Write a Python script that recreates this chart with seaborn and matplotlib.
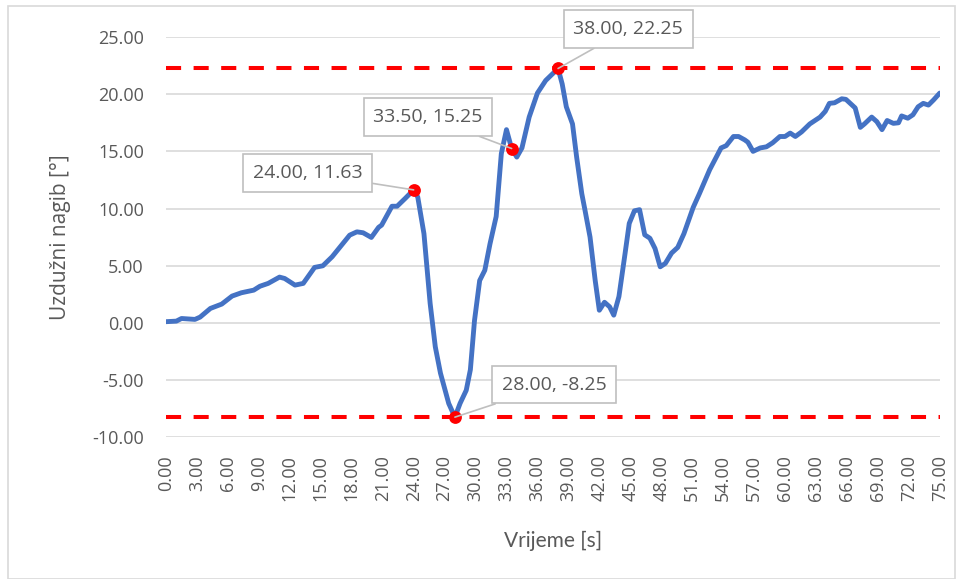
import numpy as np
import pandas as pd
import matplotlib
matplotlib.use("Agg")
import matplotlib.pyplot as plt
import seaborn as sns
from matplotlib.patches import Rectangle
from matplotlib.ticker import FormatStrFormatter, MultipleLocator

# Podaci ocitani sa grafa
vrijeme = [0.0, 1.0, 1.5, 2.8, 3.3, 4.3, 5.4, 6.4, 7.3, 8.5, 9.1, 9.9, 11.0, 11.5,
           12.5, 13.3, 14.4, 15.2, 16.1, 17.8, 18.5, 19.1, 19.9, 20.6, 20.9, 21.9,
           22.4, 23.2, 24.0, 24.4, 25.0, 25.6, 26.1, 26.6, 27.4, 28.0, 28.5, 29.1,
           29.5, 29.9, 30.4, 30.9, 31.4, 32.0, 32.5, 33.0, 33.5, 34.0, 34.5, 35.2,
           36.0, 36.8, 38.0, 38.4, 38.8, 39.4, 39.8, 40.3, 40.6, 41.1, 41.6, 42.0,
           42.5, 43.0, 43.4, 43.9, 44.5, 44.9, 45.4, 45.9, 46.4, 46.9, 47.4, 47.9,
           48.4, 49.0, 49.6, 50.2, 51.1, 51.7, 52.7, 53.8, 54.3, 55.0, 55.5, 56.1,
           56.4, 56.9, 57.6, 58.2, 58.8, 59.5, 60.0, 60.5, 61.0, 61.6, 62.4, 63.4,
           63.9, 64.3, 64.8, 65.5, 65.9, 66.8, 67.3, 67.7, 68.4, 68.9, 69.4, 69.9,
           70.5, 71.0, 71.3, 71.9, 72.4, 72.9, 73.4, 73.9, 74.4, 75.0]
nagib = [0.1, 0.15, 0.38, 0.3, 0.5, 1.26, 1.64, 2.34, 2.63, 2.86, 3.2, 3.45, 4.0, 3.88,
         3.3, 3.45, 4.85, 4.99, 5.78, 7.67, 7.96, 7.88, 7.47, 8.35, 8.55, 10.2,
         10.2, 10.9, 11.63, 11.0, 7.8, 1.7, -2.1, -4.4, -7.05, -8.25, -7.05, -5.9,
         -4.1, 0.2, 3.7, 4.6, 6.9, 9.3, 14.8, 16.9, 15.25, 14.5, 15.3, 18.0,
         20.1, 21.2, 22.25, 20.9, 18.9, 17.4, 14.5, 11.3, 9.9, 7.5, 3.7, 1.1,
         1.8, 1.4, 0.67, 2.3, 6.1, 8.7, 9.8, 9.9, 7.7, 7.4, 6.5, 4.9,
         5.2, 6.1, 6.6, 7.8, 10.1, 11.3, 13.4, 15.3, 15.5, 16.3, 16.3, 16.0,
         15.8, 15.0, 15.3, 15.4, 15.75, 16.3, 16.3, 16.6, 16.3, 16.7, 17.4, 18.0,
         18.5, 19.2, 19.25, 19.6, 19.55, 18.8, 17.1, 17.4, 18.0, 17.6, 16.9, 17.7,
         17.45, 17.5, 18.1, 17.9, 18.2, 18.9, 19.2, 19.05, 19.5, 20.1]

# Istaknute tocke i granice
tocke_x = [24.0, 28.0, 33.5, 38.0]
tocke_y = [11.63, -8.25, 15.25, 22.25]
# polozaji oznaka (sredina okvira)
oznake_x = [13.7, 37.6, 25.4, 44.8]
oznake_y = [13.1, -5.4, 18.0, 25.7]
maks_nagib = 22.25
min_nagib = -8.25

df = pd.DataFrame({'Vrijeme': vrijeme, 'Nagib': nagib})

sns.set_theme(style="white")
plt.rcParams['font.family'] = ['Open Sans', 'DejaVu Sans']
siva = '#595959'

fig = plt.figure(figsize=(9.57, 5.79), dpi=100)
ax = fig.add_axes([0.1735, 0.245, 0.8085, 0.691])

ax.axhline(maks_nagib, color='#ff0000', lw=2.9, dashes=(3.75, 3.1), zorder=2)
ax.axhline(min_nagib, color='#ff0000', lw=2.9, dashes=(3.75, 3.1), zorder=2)

sns.lineplot(data=df, x='Vrijeme', y='Nagib', ax=ax, color='#4472C4', lw=3.5,
             sort=False, zorder=3, solid_joinstyle='round', solid_capstyle='round')
ax.scatter(tocke_x, tocke_y, s=85, color='#ff0000', zorder=4, linewidths=0)

for px, py, lx, ly in zip(tocke_x, tocke_y, oznake_x, oznake_y):
    ax.annotate(f'{px:.2f}, {py:.2f}', xy=(px, py), xytext=(lx, ly),
                ha='center', va='center', fontsize=14, color=siva,
                annotation_clip=False, zorder=5,
                bbox=dict(boxstyle='square,pad=0.5', fc='white', ec='#bfbfbf', lw=1.2),
                arrowprops=dict(arrowstyle='-', color='#bfbfbf', lw=1.2, shrinkA=0, shrinkB=0))

ax.set_xlim(0, 75)
ax.set_ylim(-10, 25)
ax.xaxis.set_major_locator(MultipleLocator(3))
ax.yaxis.set_major_locator(MultipleLocator(5))
ax.xaxis.set_major_formatter(FormatStrFormatter('%.2f'))
ax.yaxis.set_major_formatter(FormatStrFormatter('%.2f'))
ax.grid(axis='y', color='#d9d9d9', lw=1.2)
ax.grid(axis='x', visible=False)
for s in ax.spines.values():
    s.set_visible(False)
ax.tick_params(axis='x', labelrotation=90, length=0, pad=13, labelsize=13, labelcolor=siva)
ax.tick_params(axis='y', length=0, pad=16, labelsize=13, labelcolor=siva)

ax.set_xlabel('Vrijeme [s]', fontsize=15, color=siva, labelpad=21, family=['Lato', 'DejaVu Sans'])
ax.set_ylabel('Uzdužni nagib [°]', fontsize=15, color=siva, labelpad=15)

fig.patches.append(Rectangle((0.008, 0.0), 0.99, 0.99, transform=fig.transFigure,
                             fill=False, ec='#d9d9d9', lw=1.2))

plt.savefig('out.png', dpi=100)
plt.close()
